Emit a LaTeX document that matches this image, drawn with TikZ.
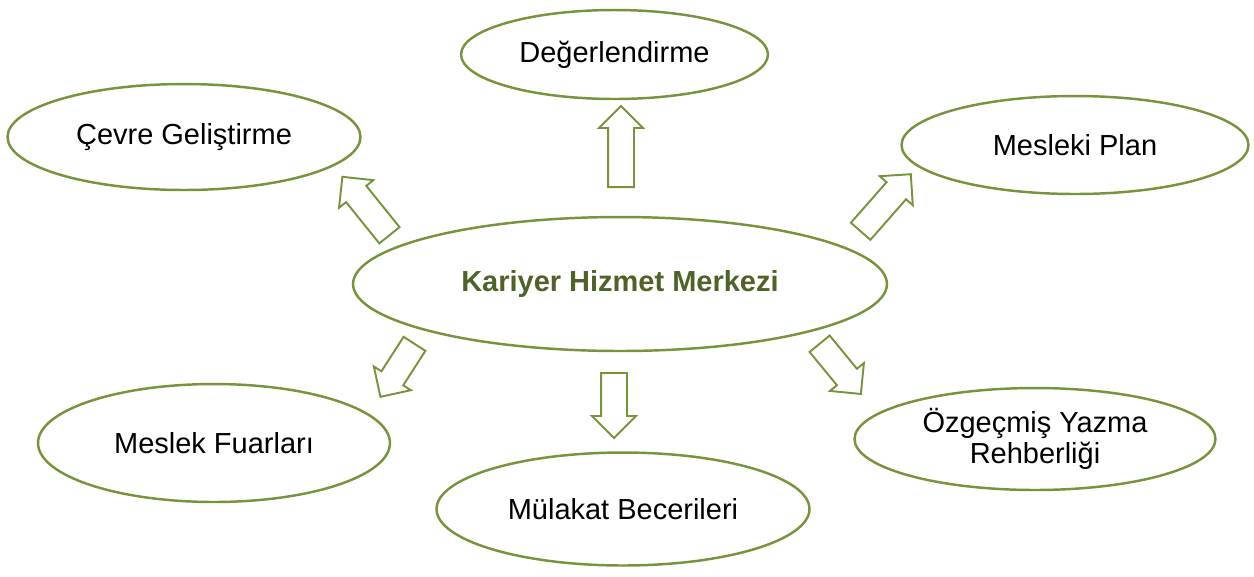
\documentclass[tikz,border=0pt]{standalone}
\usepackage{fontspec}
\setmainfont{Liberation Sans}
\usetikzlibrary{positioning}
\usetikzlibrary{shapes.geometric,shapes.arrows}

\definecolor{olive}{HTML}{77933C}
\definecolor{darkolive}{HTML}{4F6228}

\tikzset{
    topic/.style={ellipse, draw=olive, line width=1.4pt, inner sep=0pt,
        align=center, font=\fontsize{16.5}{18}\selectfont},
    blockarrow/.style={single arrow, draw=olive, line width=1.1pt, inner xsep=0pt,
        inner ysep=0.24cm, single arrow head extend=0.18cm, anchor=tail}
}

\begin{document}
\begin{tikzpicture}[x=0.02cm, y=-0.02cm]
    \useasboundingbox (0,0) rectangle (1254,576);

    \node[topic, minimum width=10.68cm, minimum height=2.68cm, text=darkolive,
        font=\fontsize{16.5}{18}\selectfont\bfseries] (merkez) at (620,284) {Kariyer Hizmet Merkezi};

    \node[topic, minimum width=6.14cm, minimum height=1.78cm] (degerlendirme) at (614.5,54.5) {Değerlendirme};
    \node[topic, minimum width=7.06cm, minimum height=2.12cm] (cevre) at (184,137) {Çevre Geliştirme};
    \node[topic, minimum width=6.94cm, minimum height=1.96cm] (plan) at (1075,145) {Mesleki Plan};
    \node[topic, minimum width=7.04cm, minimum height=2.36cm] (fuar) at (214,443) {Meslek Fuarları};
    \node[topic, minimum width=7.46cm, minimum height=2.26cm] (mulakat) at (623,509) {Mülakat Becerileri};
    \node[topic, minimum width=7.22cm, minimum height=2.04cm] (ozgecmis) at (1035,439) {Özgeçmiş Yazma\\Rehberliği};

    % block arrows around the centre
    \node[blockarrow, minimum height=1.62cm, rotate=90] (okUst) at (621,188) {};
    \node[blockarrow, minimum height=1.30cm, rotate=-90] (okAlt) at (614,372) {};
    \node[blockarrow, minimum height=1.50cm, rotate=128.8] (okSolUst) at (390,236) {};
    \node[blockarrow, minimum height=1.52cm, rotate=48.7] (okSagUst) at (860,232) {};
    \node[blockarrow, minimum height=1.26cm, rotate=237.3] (okSolAlt) at (415,343) {};
    \node[blockarrow, minimum height=1.30cm, rotate=-50.6] (okSagAlt) at (819,343) {};
\end{tikzpicture}
\end{document}
